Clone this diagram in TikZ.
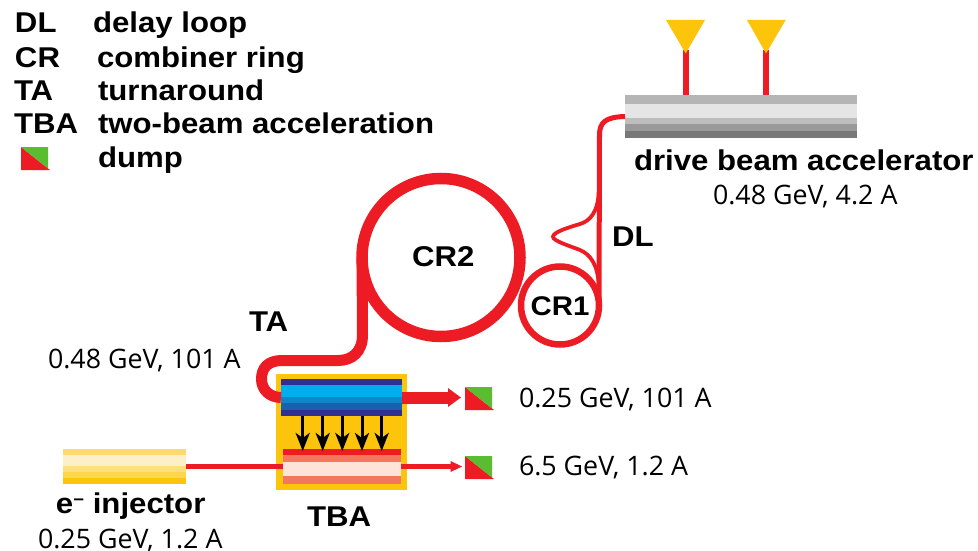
\documentclass[tikz,border=0pt]{standalone}
\usepackage{fontspec}
\setmainfont{Open Sans}
\newfontfamily\boldlab[FakeStretch=1.09]{Liberation Sans Bold}
\usetikzlibrary{arrows.meta}
\definecolor{rd}{HTML}{ED1C24}
\definecolor{yl}{HTML}{FCC50C}
\definecolor{gr}{HTML}{5ABD31}
\tikzset{
  every node/.style={inner sep=0pt,outer sep=0pt},
  blab/.style={font=\fontsize{28.6}{30}\selectfont\boldlab,anchor=base west},
  vlab/.style={font=\fontsize{26.8}{28}\selectfont,anchor=base west},
  block/.style={rectangle,draw=none},
  ring/.style={circle,draw=rd},
  beam/.style={draw=rd,line cap=butt},
  push/.style={black,line width=3pt,-{Stealth[length=18pt,width=14pt,inset=5pt]}},
  dumpmark/.pic={
    \fill[rd] (0,0) -- (29,23) -- (0,23) -- cycle;
    \fill[gr] (0,0) -- (27,0) -- (27,21.5) -- cycle;
  }
}
\begin{document}
\begin{tikzpicture}[x=1pt,y=-1pt]
\useasboundingbox (0,0) rectangle (978,551);
\fill[white] (0,0) rectangle (978,551);

% legend
\node[blab] (l1) at (15,33) {DL};
\node[blab] (l2) at (15,67) {CR};
\node[blab] (l3) at (14,100) {TA};
\node[blab] (l4) at (14,133) {TBA};
\node[blab] (d1) at (93,33) {delay loop};
\node[blab] (d2) at (97,67) {combiner ring};
\node[blab] (d3) at (98,100) {turnaround};
\node[blab] (d4) at (98,133) {two-beam acceleration};
\node[blab] (d5) at (98,167) {dump};
\pic at (21,147) {dumpmark};

% drive beam accelerator
\fill[black!29] (625,95) rectangle (857,104);
\fill[black!10] (625,104) rectangle (857,118);
\fill[black!26] (625,118) rectangle (857,124);
\fill[black!40] (625,124) rectangle (857,131);
\fill[black!53] (625,131) rectangle (857,138);
\node[block,minimum width=232pt,minimum height=43pt] (acc) at (741,116.5) {};

% antennas
\coordinate (a1) at (686,50);
\coordinate (a2) at (766,50);
\draw[beam,line width=6pt] (a1) -- (a1 |- acc.north);
\draw[beam,line width=6pt] (a2) -- (a2 |- acc.north);
\fill[yl] (666,20) -- (705,20) -- (685.7,53.5) -- cycle;
\fill[yl] (747,20) -- (785.7,20) -- (766,53.5) -- cycle;

% rings
\node[ring,line width=11.5pt,minimum size=158pt] (cr2) at (441,257.5) {};
\node[ring,line width=6.5pt,minimum size=78pt] (cr1) at (560,305.5) {};
\node[blab] (cr2t) at (412,266) {CR2};
\node[blab,font=\fontsize{27}{30}\selectfont\boldlab] (cr1t) at (530.5,315) {CR1};

% delay loop and feed
\draw[beam,line width=5pt] (cr1.east) -- (599.5,135) .. controls (599.5,122) and (606,117) .. (acc.west);
\draw[beam,line width=3.8pt] (598.7,192) .. controls (598,212) and (590,221) .. (580,224)
  .. controls (570,227) and (553,232) .. (553,236.7)
  .. controls (553,241) and (570,246) .. (580,250)
  .. controls (590,254) and (598,265) .. (598.7,285);

% TBA box
\fill[yl] (276,374) rectangle (407,490);
\fill[fill={rgb,255:red,46;green,49;blue,146}] (281,379) rectangle (402,385);
\fill[fill={rgb,255:red,0;green,174;blue,239}] (281,385) rectangle (402,397);
\fill[fill={rgb,255:red,15;green,134;blue,201}] (281,397) rectangle (402,403);
\fill[fill={rgb,255:red,28;green,95;blue,174}] (281,403) rectangle (402,410);
\fill[fill={rgb,255:red,46;green,49;blue,146}] (281,410) rectangle (402,416);
\node[block,minimum width=121pt,minimum height=37pt] (drv) at (341.5,397.5) {};
\fill[rd] (283,449) rectangle (401,455);
\fill[fill={rgb,255:red,244;green,117;blue,96}] (283,455) rectangle (401,462);
\fill[fill={rgb,255:red,253;green,227;blue,216}] (283,462) rectangle (401,476);
\fill[fill={rgb,255:red,244;green,117;blue,96}] (283,476) rectangle (401,484);
\node[block,minimum width=118pt,minimum height=35pt] (main) at (342,466.5) {};

% turnaround
\draw[beam,line width=11pt] (cr2.west) -- (362.5,335) .. controls (362.5,352) and (352,360.5) .. (338,360.5)
  -- (282,360.5) .. controls (268,360.5) and (261.5,368) .. (261.5,379)
  .. controls (261.5,390) and (270,397.5) .. (drv.west);

% power transfer arrows
\foreach \x/\n in {302.7/1,322.7/2,342.3/3,362/4,381.7/5}{
  \coordinate (p\n) at (\x,451);
  \draw[push] (p\n |- drv.south) -- (p\n);
}

% injector
\fill[fill={rgb,255:red,253;green,217;blue,111}] (63,449) rectangle (186,455);
\fill[fill={rgb,255:red,253;green,240;blue,200}] (63,455) rectangle (186,466);
\fill[fill={rgb,255:red,254;green,223;blue,128}] (63,466) rectangle (186,472);
\fill[fill={rgb,255:red,253;green,213;blue,79}] (63,472) rectangle (186,478);
\fill[yl] (63,478) rectangle (186,484);
\node[block,minimum width=123pt,minimum height=35pt] (inj) at (124.5,466.5) {};
\draw[beam,line width=5.6pt] (inj.east) -- (main.west);

% dumps and outgoing beams
\coordinate (o1) at (461,397.5);
\coordinate (o2) at (462.5,466.5);
\draw[beam,line width=12pt,-{Triangle[length=13pt,width=18pt]}] (drv.east) -- (o1);
\draw[beam,line width=5.6pt,-{Triangle[length=12pt,width=10pt]}] (main.east) -- (o2);
\pic at (465,387) {dumpmark};
\pic at (465,456) {dumpmark};

% labels
\node[blab] (acct) at (634,170) {drive beam accelerator};
\node[vlab] (accv) at (713,204) {0.48 GeV, 4.2 A};
\node[blab] (dl) at (612,246) {DL};
\node[blab] (ta) at (249,331) {TA};
\node[vlab] (tav) at (48,368) {0.48 GeV, 101 A};
\node[vlab] (o1v) at (519,407) {0.25 GeV, 101 A};
\node[vlab] (o2v) at (519,475) {6.5 GeV, 1.2 A};
\node[blab] (injt) at (56,513) {e\raisebox{8pt}{\fontsize{17}{17}\selectfont\char"2212} injector};
\node[vlab] (injv) at (38,548) {0.25 GeV, 1.2 A};
\node[blab] (tba) at (307,526) {TBA};
\end{tikzpicture}
\end{document}
